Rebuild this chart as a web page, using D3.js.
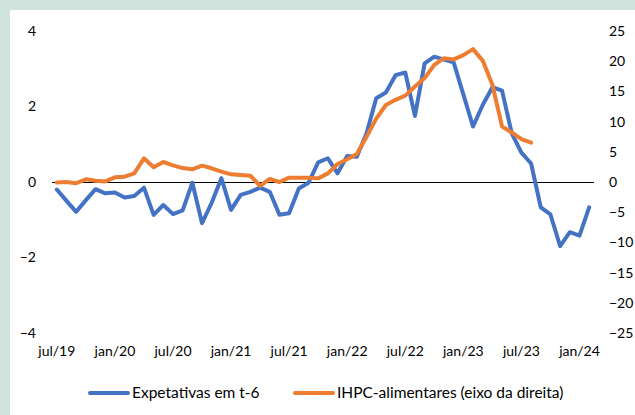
<!DOCTYPE html>
<html>
<head>
<meta charset="utf-8">
<script src="https://cdn.jsdelivr.net/npm/d3@7"></script>
<style>
  html, body { margin: 0; padding: 0; background: #d0e3dd; }
  #chart { width: 635px; height: 415px; }
  text { font-family: Lato, "Open Sans", sans-serif; fill: #000; }
</style>
</head>
<body>
<div id="chart"></div>
<script>
// Months, jul/19 .. fev/24
const months = [
  "jul/19","ago/19","set/19","out/19","nov/19","dez/19",
  "jan/20","fev/20","mar/20","abr/20","mai/20","jun/20",
  "jul/20","ago/20","set/20","out/20","nov/20","dez/20",
  "jan/21","fev/21","mar/21","abr/21","mai/21","jun/21",
  "jul/21","ago/21","set/21","out/21","nov/21","dez/21",
  "jan/22","fev/22","mar/22","abr/22","mai/22","jun/22",
  "jul/22","ago/22","set/22","out/22","nov/22","dez/22",
  "jan/23","fev/23","mar/23","abr/23","mai/23","jun/23",
  "jul/23","ago/23","set/23","out/23","nov/23","dez/23",
  "jan/24","fev/24"
];

// Expetativas em t-6 (left axis)
const expectations = [
  -0.2, -0.5, -0.79, -0.48, -0.19, -0.3, -0.28, -0.41, -0.37, -0.15,
  -0.87, -0.61, -0.85, -0.75, -0.02, -1.09, -0.55, 0.1, -0.74, -0.34,
  -0.26, -0.15, -0.26, -0.87, -0.83, -0.17, -0.02, 0.52, 0.63, 0.23,
  0.69, 0.67, 1.29, 2.22, 2.37, 2.83, 2.9, 1.75, 3.14, 3.32,
  3.24, 3.17, 2.32, 1.47, 2.04, 2.51, 2.42, 1.29, 0.78, 0.49,
  -0.67, -0.86, -1.7, -1.33, -1.42, -0.67
];

// IHPC-alimentares (right axis), ends ago/23
const foodHicp = [
  -0.1, 0.0, -0.2, 0.44, 0.22, 0.1, 0.77, 0.88, 1.44, 3.92,
  2.43, 3.31, 2.76, 2.3, 2.1, 2.7, 2.27, 1.71, 1.27, 1.16,
  1.05, -0.66, 0.5, 0.0, 0.72, 0.72, 0.72, 0.6, 1.43, 2.98,
  3.76, 4.64, 7.5, 10.5, 12.75, 13.6, 14.3, 15.8, 17.2, 19.4,
  20.5, 20.3, 21.0, 22.0, 20.1, 16.1, 9.2, 8.2, 7.1, 6.5
];

const leftTicks = [-4, -2, 0, 2, 4];
const rightTicks = [-25, -20, -15, -10, -5, 0, 5, 10, 15, 20, 25];
const xTicks = ["jul/19","jan/20","jul/20","jan/21","jul/21","jan/22","jul/22","jan/23","jul/23","jan/24"];

const width = 635, height = 415;

const svg = d3.select("#chart").append("svg")
    .attr("width", width)
    .attr("height", height);

// white chart area
svg.append("rect")
    .attr("x", 10).attr("y", 10)
    .attr("width", width - 10).attr("height", height - 10)
    .attr("fill", "#fff");

const x = d3.scaleBand().domain(months).range([52, 594]).padding(0);
const cx = d => x(d) + x.bandwidth() / 2;
const yL = d3.scaleLinear().domain([-4, 4]).range([333, 31]);
const yR = d3.scaleLinear().domain([-25, 25]).range([333, 31]);

// left axis labels
const left = svg.append("g")
    .attr("transform", "translate(36,0)")
    .call(d3.axisLeft(yL).tickValues(leftTicks).tickSize(0).tickPadding(0).tickFormat(d3.format("d")));
left.select(".domain").remove();
left.selectAll("text").style("font-size", "14px");

// right axis labels
const right = svg.append("g")
    .attr("transform", "translate(609,0)")
    .call(d3.axisRight(yR).tickValues(rightTicks).tickSize(0).tickPadding(0).tickFormat(d3.format("d")));
right.select(".domain").remove();
right.selectAll("text").style("font-size", "14px");

// category axis labels
const bottom = svg.append("g")
    .attr("transform", "translate(0,346)")
    .call(d3.axisBottom(x).tickValues(xTicks).tickSize(0).tickPadding(0));
bottom.select(".domain").remove();
bottom.selectAll("text").style("font-size", "14px");

// zero line
svg.append("line")
    .attr("x1", 52).attr("x2", 594)
    .attr("y1", Math.round(yL(0)) + 0.5).attr("y2", Math.round(yL(0)) + 0.5)
    .attr("stroke", "#000").attr("stroke-width", 1.2);

const blueLine = d3.line()
    .x((d, i) => cx(months[i]))
    .y(d => yL(d));

const orangeLine = d3.line()
    .x((d, i) => cx(months[i]))
    .y(d => yR(d));

svg.append("path")
    .datum(expectations)
    .attr("fill", "none")
    .attr("stroke", "#4472C4")
    .attr("stroke-width", 4)
    .attr("stroke-linejoin", "round")
    .attr("stroke-linecap", "round")
    .attr("d", blueLine);

svg.append("path")
    .datum(foodHicp)
    .attr("fill", "none")
    .attr("stroke", "#ED7D31")
    .attr("stroke-width", 4)
    .attr("stroke-linejoin", "round")
    .attr("stroke-linecap", "round")
    .attr("d", orangeLine);

// legend
const legend = [
  { label: "Expetativas em t-6", color: "#4472C4", x: 90 },
  { label: "IHPC-alimentares (eixo da direita)", color: "#ED7D31", x: 295 }
];
const lg = svg.append("g").selectAll("g").data(legend).join("g")
    .attr("transform", d => `translate(${d.x},393)`);
lg.append("line")
    .attr("x1", 0).attr("x2", 38)
    .attr("stroke", d => d.color)
    .attr("stroke-width", 4)
    .attr("stroke-linecap", "round");
lg.append("text")
    .attr("x", 42)
    .attr("dy", "0.35em")
    .style("font-size", "15.5px")
    .text(d => d.label);
</script>
</body>
</html>
